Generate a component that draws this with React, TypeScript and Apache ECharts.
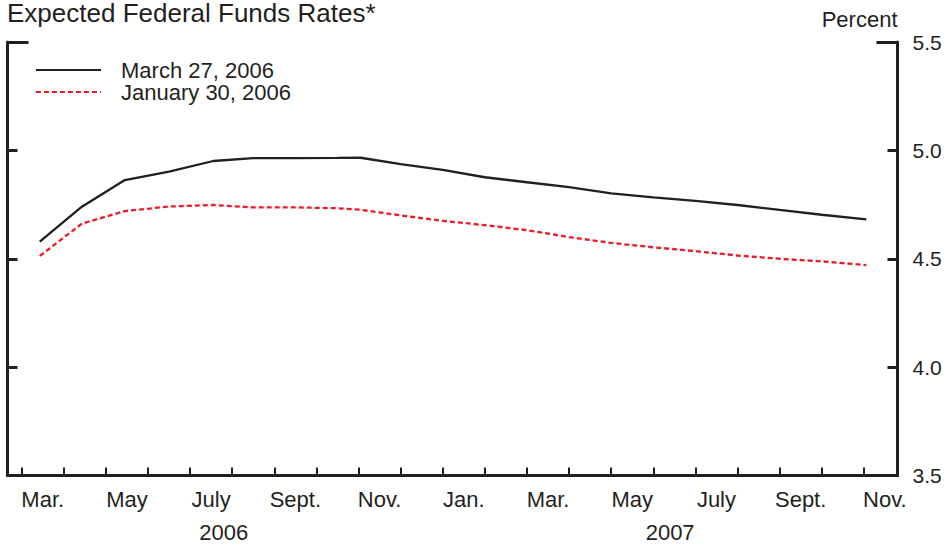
import React, { useEffect, useRef } from 'react';
import * as echarts from 'echarts';

// x positions in months counted from 1 March 2006
const monthPos = [0.43, 1.43, 2.45, 3.5, 4.55, 5.5, 6.5, 7.5, 8.05, 9, 10, 11, 12, 13, 14, 15, 16, 17, 18, 19, 20.06];
const march27 = [4.579, 4.74, 4.863, 4.902, 4.951, 4.964, 4.964, 4.965, 4.966, 4.937, 4.91, 4.876, 4.853, 4.83, 4.802, 4.783, 4.767, 4.748, 4.725, 4.703, 4.682];
const january30 = [4.513, 4.662, 4.72, 4.741, 4.748, 4.737, 4.737, 4.733, 4.726, 4.7, 4.675, 4.655, 4.632, 4.6, 4.573, 4.553, 4.535, 4.515, 4.5, 4.488, 4.471];

const monthTicks = [0, 1, 2, 3, 4, 5, 6, 7, 8, 9, 10, 11, 12, 13, 14, 15, 16, 17, 18, 19, 20];
const monthLabelPos = [0.5, 2.5, 4.5, 6.5, 8.5, 10.5, 12.5, 14.5, 16.5, 18.5, 20.5];
const monthLabels = ['Mar.', 'May', 'July', 'Sept.', 'Nov.', 'Jan.', 'Mar.', 'May', 'July', 'Sept.', 'Nov.'];
const yearLabelPos = [4.8, 15.4];
const yearLabels = ['2006', '2007'];
const yTicks = [3.5, 4.0, 4.5, 5.0, 5.5];

const X_MIN = -0.337;
const X_MAX = 20.8;
const Y_MIN = 3.5;
const Y_MAX = 5.5;

const FONT = "'Liberation Sans', Arial, Helvetica, sans-serif";
const INK = '#231f20';
const RED = '#ed1c24';

function pick(pos: number[], labels: string[], v: number) {
  for (let i = 0; i < pos.length; i++) {
    if (Math.abs(pos[i] - v) < 0.01) return labels[i];
  }
  return '';
}

export default function App() {
  const ref = useRef<HTMLDivElement>(null);
  useEffect(() => {
    if (!ref.current) return;
    const chart = echarts.init(ref.current, null, { renderer: 'svg' });
    const axisLine = { show: true, onZero: false, lineStyle: { color: INK, width: 3 } };
    chart.setOption({
      animation: false,
      backgroundColor: '#fff',
      title: {
        text: 'Expected Federal Funds Rates*',
        left: 7,
        top: 0,
        padding: 0,
        textStyle: { fontFamily: FONT, fontSize: 26, fontWeight: 'normal', color: INK },
      },
      legend: {
        left: 35,
        top: 59,
        orient: 'vertical',
        padding: 0,
        itemGap: 0,
        itemWidth: 65,
        itemHeight: 14,
        itemStyle: { opacity: 0 },
        textStyle: { fontFamily: FONT, fontSize: 22, color: INK, lineHeight: 22, padding: [0, 0, 0, 15] },
        data: ['March 27, 2006', 'January 30, 2006'],
      },
      grid: { left: 7.5, right: 48.5, top: 42, bottom: 72.5, containLabel: false, outerBoundsMode: 'none' },
      xAxis: [
        {
          type: 'value',
          min: X_MIN,
          max: X_MAX,
          position: 'bottom',
          axisLine,
          splitLine: { show: false },
          axisTick: { show: true, inside: true, length: 8, customValues: monthTicks, lineStyle: { color: INK, width: 2 } },
          axisLabel: {
            show: true,
            customValues: monthLabelPos,
            margin: 13,
            fontFamily: FONT,
            fontSize: 22,
            color: INK,
            formatter: (v: number) => pick(monthLabelPos, monthLabels, v),
          },
        },
        {
          type: 'value',
          min: X_MIN,
          max: X_MAX,
          position: 'bottom',
          axisLine: { show: false, onZero: false },
          splitLine: { show: false },
          axisTick: { show: false },
          axisLabel: {
            show: true,
            customValues: yearLabelPos,
            margin: 46,
            fontFamily: FONT,
            fontSize: 22,
            color: INK,
            formatter: (v: number) => pick(yearLabelPos, yearLabels, v),
          },
        },
      ],
      yAxis: [
        {
          type: 'value',
          min: Y_MIN,
          max: Y_MAX,
          position: 'right',
          axisLine,
          splitLine: { show: false },
          axisTick: { show: true, inside: true, length: 10, customValues: yTicks, lineStyle: { color: INK, width: 3 } },
          axisLabel: {
            show: true,
            customValues: yTicks,
            margin: 15,
            fontFamily: FONT,
            fontSize: 21,
            color: INK,
            formatter: (v: number) => v.toFixed(1),
          },
          name: 'Percent',
          nameLocation: 'end',
          nameGap: 12,
          nameTextStyle: { fontFamily: FONT, fontSize: 22, color: INK, align: 'right', verticalAlign: 'bottom' },
        },
        {
          type: 'value',
          min: Y_MIN,
          max: Y_MAX,
          position: 'left',
          axisLine,
          splitLine: { show: false },
          axisTick: { show: true, inside: true, length: 10, customValues: yTicks, lineStyle: { color: INK, width: 3 } },
          axisLabel: { show: false },
        },
      ],
      series: [
        {
          name: 'March 27, 2006',
          type: 'line',
          xAxisIndex: 0,
          yAxisIndex: 0,
          symbol: 'none',
          showSymbol: false,
          lineStyle: { color: INK, width: 2.3 },
          itemStyle: { color: INK },
          data: monthPos.map((x, i) => [x, march27[i]]),
          markLine: {
            silent: true,
            symbol: 'none',
            label: { show: false },
            lineStyle: { color: INK, width: 3, type: 'solid' },
            data: [
              [{ coord: [X_MIN, Y_MAX] }, { coord: [X_MIN + 0.5, Y_MAX] }],
              [{ coord: [X_MAX - 0.5, Y_MAX] }, { coord: [X_MAX, Y_MAX] }],
            ],
          },
        },
        {
          name: 'January 30, 2006',
          type: 'line',
          xAxisIndex: 0,
          yAxisIndex: 0,
          symbol: 'none',
          showSymbol: false,
          lineStyle: { color: RED, width: 2.3, type: [5, 3] },
          itemStyle: { color: RED },
          data: monthPos.map((x, i) => [x, january30[i]]),
        },
      ],
    });
    return () => chart.dispose();
  }, []);
  return <div ref={ref} style={{ width: 946, height: 548, position: 'absolute', left: 0, top: 0 }} />;
}
